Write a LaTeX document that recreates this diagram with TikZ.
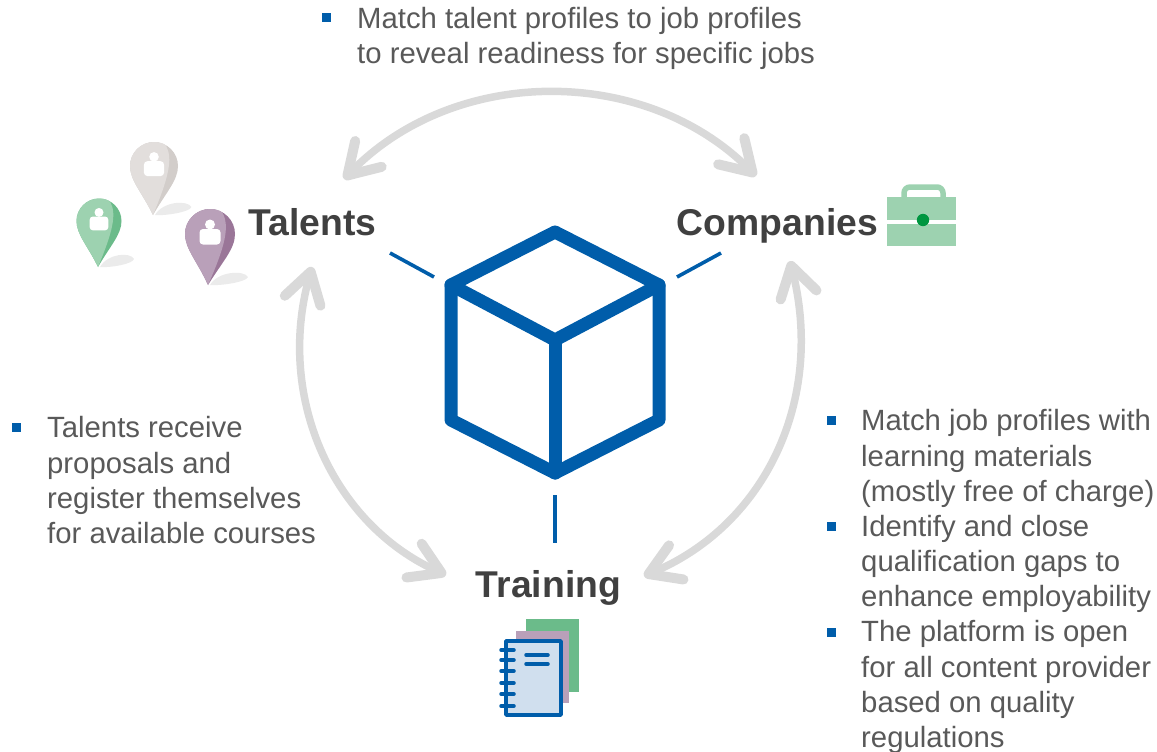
\documentclass[tikz,border=0pt]{standalone}
\usepackage{fontspec}
\setmainfont{Liberation Sans}
\usetikzlibrary{arrows.meta}
\definecolor{txt}{HTML}{595959}
\definecolor{ttl}{HTML}{404040}
\definecolor{blu}{HTML}{005DAA}
\definecolor{arc}{HTML}{D9D9D9}
\definecolor{grn}{HTML}{9DD2B0}
\definecolor{grnd}{HTML}{6BBB8A}
\definecolor{pur}{HTML}{B9A0B9}
\definecolor{purd}{HTML}{9A7698}
\definecolor{gry}{HTML}{E2DEDC}
\definecolor{gryd}{HTML}{D2CDCA}
\definecolor{shd}{HTML}{EBEBEB}
\definecolor{note}{HTML}{D0DFEE}
\definecolor{lock}{HTML}{009640}
\newcommand{\pin}[7]{% cx, cy, r, tipx, tipy, main, dark
  \fill[shd] (#4+2,#5) .. controls (#4+10,#5-14) and (#4+#3*1.45,#5-15) .. (#4+#3*1.6,#5-8) .. controls (#4+#3*1.55,#5-3) and (#4+12,#5+1) .. (#4+2,#5) -- cycle;
  \fill[#7] (#4,#5) .. controls (#1-#3*0.5,#2+#3*1.1) and (#1-#3,#2+#3*0.6) .. (#1-#3,#2)
     .. controls (#1-#3,#2-#3*0.55) and (#1-#3*0.55,#2-#3) .. (#1,#2-#3)
     .. controls (#1+#3*0.55,#2-#3) and (#1+#3,#2-#3*0.55) .. (#1+#3,#2)
     .. controls (#1+#3,#2+#3*0.6) and (#1+#3*0.5,#2+#3*1.1) .. (#4,#5) -- cycle;
  \fill[#6] (#4,#5) .. controls (#1-#3*0.5,#2+#3*1.1) and (#1-#3,#2+#3*0.6) .. (#1-#3,#2)
     .. controls (#1-#3,#2-#3*0.55) and (#1-#3*0.55,#2-#3) .. (#1,#2-#3)
     .. controls (#1+#3*0.2,#2-#3) and (#1+#3*0.4,#2-#3*0.95) .. (#1+#3*0.5,#2-#3*0.85)
     .. controls (#1+#3*0.8,#2-#3*0.3) and (#1+#3*0.6,#2+#3*0.5) .. (#4,#5) -- cycle;
  \fill[white] (#1,#2-#3*0.38) circle[radius=#3*0.2];
  \fill[white,rounded corners=3.5] (#1-#3*0.42,#2-#3*0.2) rectangle (#1+#3*0.42,#2+#3*0.42);
}
\tikzset{
  x=1pt,y=-1pt,
  body/.style={font=\fontsize{29.3}{35.2}\selectfont,text=txt,inner sep=0,align=left,anchor=north west},
  title/.style={font=\fontsize{37.3}{40}\selectfont\bfseries,text=ttl,inner sep=0,anchor=base},
  cycle arrow/.style={draw=arc,line width=7.5,{Straight Barb[length=30,width=37,line width=10,round]}-{Straight Barb[length=30,width=37,line width=10,round]}},
  cube/.style={draw=blu,line width=13,line join=round,line cap=round},
  tick/.style={draw=blu,line width=3.6},
  bullet/.style={fill=blu,minimum size=9,inner sep=0,anchor=center}
}
\begin{document}
\begin{tikzpicture}
\useasboundingbox (0,0) rectangle (1157,752);
% named positions
\coordinate (talentsA) at (344,179);
\coordinate (companiesA) at (756,176);
\coordinate (talentsB) at (312,267);
\coordinate (trainingL) at (446,575);
\coordinate (companiesB) at (790,261);
\coordinate (trainingR) at (644,576);
\coordinate (t1a) at (390,253); \coordinate (t1b) at (434,277);
\coordinate (t2a) at (721,253); \coordinate (t2b) at (677,277);
\coordinate (t3a) at (555,495); \coordinate (t3b) at (555,543);
% arcs
\path[cycle arrow] (talentsA) .. controls (455,65) and (645,65) .. (companiesA);
\path[cycle arrow] (talentsB) .. controls (275,400) and (335,525) .. (trainingL);
\path[cycle arrow] (companiesB) .. controls (825,400) and (765,525) .. (trainingR);
% ticks
\path[tick] (t1a) -- (t1b);
\path[tick] (t2a) -- (t2b);
\path[tick] (t3a) -- (t3b);
% cube
\path[cube] (555,232) -- (659,285) -- (659,420) -- (555,473) -- (451,420) -- (451,285) -- cycle;
\path[cube] (451,285) -- (555,340) -- (659,285);
\path[cube] (555,340) -- (555,473);
% titles
\node[title] (talents) at (312.5,235) {Talents};
\node[title] (companies) at (777.5,235) {Companies};
\node[title] (training) at (548.5,597) {Training};
% pins
\pin{154}{166}{24}{153}{215}{gry}{gryd}
\pin{99}{221}{22.5}{98}{267}{grn}{grnd}
\pin{210}{234}{25}{208}{285}{pur}{purd}
% briefcase
\draw[grn,line width=5.5,rounded corners=6] (904,197) -- (904,187) -- (943,187) -- (943,197);
\fill[grn] (887,197) rectangle (956,220);
\fill[grn] (887,224) rectangle (956,246);
\fill[lock] (923,220) circle[radius=6.2];
% notebook
\fill[grnd] (526,619) rectangle (579,692);
\fill[pur] (516,631) rectangle (569,703);
\draw[blu,line width=3.5,fill=note,line join=round] (506,641) rectangle (561,715);
\foreach \y in {650,660,671,683,694,706} \draw[blu,line width=3.5,line cap=round] (501,\y) -- (514,\y);
\draw[blu,line width=3.5,line cap=round] (526,655) -- (548,655);
\draw[blu,line width=3.5,line cap=round] (526,664) -- (548,664);
% texts
\node[bullet] (b1) at (326,18) {};
\node[body] (tx1) at (357,7) {Match talent profiles to job profiles\\to reveal readiness for specific jobs};
\node[bullet] (b2) at (16,427) {};
\node[body] (tx2) at (47,416.5) {Talents receive\\proposals and\\register themselves\\for available courses};
\node[bullet] (b3) at (831,420) {};
\node[body] (tx3) at (861,409.5) {Match job profiles with\\learning materials\\(mostly free of charge)};
\node[bullet] (b4) at (831,526) {};
\node[body] (tx4) at (861,515) {Identify and close\\qualification gaps to\\enhance employability};
\node[bullet] (b5) at (831,632) {};
\node[body] (tx5) at (861,620.5) {The platform is open\\for all content provider\\based on quality\\regulations};
\end{tikzpicture}
\end{document}
